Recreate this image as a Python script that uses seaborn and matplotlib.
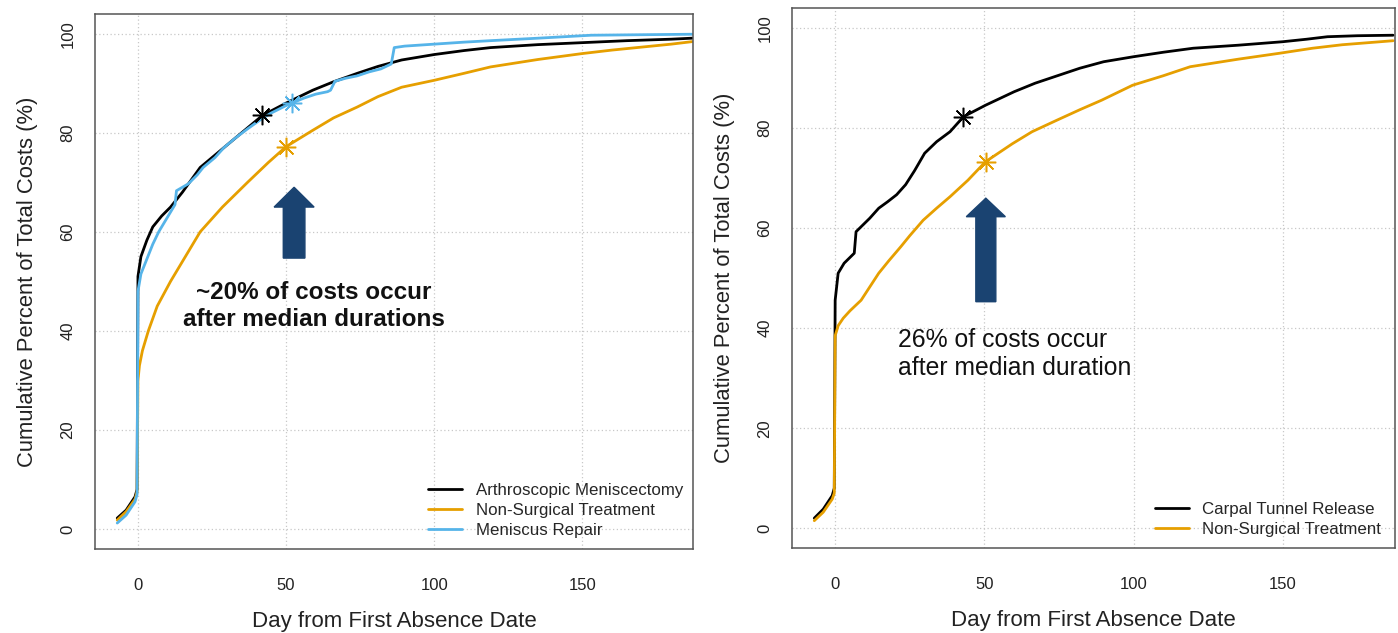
import numpy as np
import pandas as pd
import matplotlib
matplotlib.use("Agg")
import matplotlib.pyplot as plt
import seaborn as sns
from matplotlib.patches import FancyArrow

# --- left panel: knee (meniscus) ---
knee_labels = ["Arthroscopic Meniscectomy", "Non-Surgical Treatment", "Meniscus Repair"]
knee_black_x = [-7, -4, -1, -0.3, 0, 1, 3, 5, 8, 11, 15, 21, 26, 32, 37, 42, 50, 59, 66, 74, 81, 89, 100, 110, 119, 135, 150, 165, 180, 187]
knee_black_y = [2.2, 3.8, 6.5, 8, 51, 55, 58.3, 61, 63.2, 65, 68, 73, 75.5, 78.5, 81, 83.5, 86, 88.6, 90.3, 92, 93.4, 94.7, 95.8, 96.6, 97.2, 97.8, 98.2, 98.6, 98.9, 99.1]
knee_orange_x = [-7, -4, -1, -0.3, 0, 0.5, 1.5, 3.5, 6.5, 11, 16, 21, 28.5, 37, 44, 50, 59, 66, 74, 81, 89, 100, 110, 119, 135, 150, 160, 170, 180, 187]
knee_orange_y = [1.8, 3.5, 6, 7.5, 30, 33, 36, 40, 45, 50, 55, 60, 65, 70, 74, 77.2, 80.5, 83, 85.2, 87.3, 89.2, 90.6, 92, 93.3, 94.8, 96, 96.7, 97.3, 97.9, 98.4]
knee_blue_x = [-7, -4, -1, -0.3, 0, 1, 3, 5, 7, 9, 11, 12.5, 13, 17, 20, 22, 26, 29, 33, 37, 41, 45, 50, 52, 56, 60, 64, 65, 66.5, 70, 74, 78, 82, 85.5, 86.5, 90, 100, 110, 119, 135, 153, 170, 187]
knee_blue_y = [1.2, 2.8, 5.5, 7, 48, 51.5, 54.5, 57.5, 60, 62, 64, 65.5, 68.3, 69.7, 71.5, 73, 75, 77, 79, 80.8, 82.5, 84, 85.5, 86, 87, 87.8, 88.3, 88.6, 90.4, 91, 91.5, 92.3, 92.9, 93.9, 97.2, 97.5, 97.9, 98.3, 98.6, 99.1, 99.7, 99.8, 99.9]
knee_median_x = [42, 50, 52]
knee_median_y = [83.5, 77.2, 86]

# --- right panel: carpal tunnel ---
ct_labels = ["Carpal Tunnel Release", "Non-Surgical Treatment"]
ct_black_x = [-7, -4, -1, -0.3, 0, 1, 3, 6.4, 7, 11.6, 14.6, 17.6, 20.6, 23.6, 26.6, 30, 34, 38.5, 43, 50.4, 60, 67, 75, 82, 90, 100, 110, 120, 135, 150, 158, 165, 175, 187]
ct_black_y = [2, 3.8, 6.5, 8, 45.6, 51, 53, 55, 59.3, 62, 64, 65.3, 66.7, 68.7, 71.5, 75, 77.3, 79.3, 82.3, 84.6, 87.3, 89, 90.6, 92, 93.3, 94.3, 95.2, 96, 96.6, 97.3, 97.8, 98.3, 98.5, 98.6]
ct_orange_x = [-7, -4, -1, -0.3, 0, 1, 2.7, 5, 8.7, 14.6, 18, 22, 25, 29.5, 34, 38.5, 44.5, 50.4, 59.4, 66, 74.3, 82, 89.3, 99.7, 110, 119, 135, 149, 160, 170, 187]
ct_orange_y = [1.5, 3.2, 5.8, 7, 38.5, 40.5, 42, 43.5, 45.6, 51, 53.5, 56.3, 58.5, 61.6, 64, 66.3, 69.6, 73.3, 76.9, 79.3, 81.6, 83.7, 85.6, 88.6, 90.5, 92.3, 93.8, 95, 96, 96.7, 97.5]
ct_median_x = [43, 50.4]
ct_median_y = [82.3, 73.3]

x_ticks = [0, 50, 100, 150]
y_ticks = [0, 20, 40, 60, 80, 100]

BLACK, ORANGE, BLUE = "#000000", "#E69F00", "#56B4E9"
NAVY = "#1a4371"

sns.set_style("white")
plt.rcParams["font.family"] = ["Liberation Sans", "DejaVu Sans"]


def frame(xs, ys, labels):
    parts = [pd.DataFrame({"day": x, "pct": y, "group": lab}) for x, y, lab in zip(xs, ys, labels)]
    return pd.concat(parts, ignore_index=True)


def style_axes(ax):
    ax.set_xlim(-14.48, 187.48)
    ax.set_ylim(-4, 104)
    ax.set_xticks(x_ticks)
    ax.set_yticks(y_ticks)
    ax.grid(True, color="#c8c8c8", linestyle=(0, (1, 2)), linewidth=0.9)
    ax.set_axisbelow(True)
    for s in ax.spines.values():
        s.set_color("#555555")
        s.set_linewidth(1.1)
        s.set_visible(True)
    ax.tick_params(axis="both", direction="out", length=7, width=0.8, color="#666666",
                   labelsize=12, labelcolor="#222222")
    ax.tick_params(axis="x", pad=14)
    ax.tick_params(axis="y", pad=7)
    plt.setp(ax.get_yticklabels(), rotation=90, va="center")
    ax.set_xlabel("Day from First Absence Date", fontsize=16, color="#222222", labelpad=13)
    ax.set_ylabel("Cumulative Percent of Total Costs (%)", fontsize=15.8, color="#222222", labelpad=16)


fig = plt.figure(figsize=(13.98, 6.33), dpi=100)
ax1 = fig.add_axes([0.068, 0.133, 0.428, 0.845])
ax2 = fig.add_axes([0.5665, 0.134, 0.431, 0.853])

# left
df1 = frame([knee_black_x, knee_orange_x, knee_blue_x],
            [knee_black_y, knee_orange_y, knee_blue_y], knee_labels)
sns.lineplot(data=df1, x="day", y="pct", hue="group", hue_order=knee_labels,
             palette=[BLACK, ORANGE, BLUE], estimator=None, linewidth=2, ax=ax1)
for mx, my, c in zip(knee_median_x, knee_median_y, [BLACK, ORANGE, BLUE]):
    ax1.plot(mx, my, marker=(8, 2, 0), markersize=14, color=c, markeredgewidth=1.1, zorder=5)
ax1.add_patch(FancyArrow(52.7, 54.7, 0, 14.3, width=7.3, head_width=13.5, head_length=4,
                         length_includes_head=True, color=NAVY, zorder=6))
ax1.text(59.3, 45.0, "~20% of costs occur\nafter median durations", ha="center", va="center",
         fontsize=17.5, fontweight="bold", linespacing=1.2, color="#111111")
style_axes(ax1)
ax1.legend(loc="lower left", bbox_to_anchor=(0.557, 0.02), frameon=False, fontsize=12.2,
           handlelength=2.0, handletextpad=0.8, labelspacing=0.3, borderpad=0, borderaxespad=0)

# right
df2 = frame([ct_black_x, ct_orange_x], [ct_black_y, ct_orange_y], ct_labels)
sns.lineplot(data=df2, x="day", y="pct", hue="group", hue_order=ct_labels,
             palette=[BLACK, ORANGE], estimator=None, linewidth=2, ax=ax2)
for mx, my, c in zip(ct_median_x, ct_median_y, [BLACK, ORANGE]):
    ax2.plot(mx, my, marker=(8, 2, 0), markersize=14, color=c, markeredgewidth=1.1, zorder=5)
ax2.add_patch(FancyArrow(50.5, 45.3, 0, 20.7, width=6.7, head_width=13.1, head_length=3.7,
                         length_includes_head=True, color=NAVY, zorder=6))
ax2.text(21, 34.8, "26% of costs occur\nafter median duration", ha="left", va="center",
         fontsize=17.8, linespacing=1.2, color="#111111")
style_axes(ax2)
ax2.legend(loc="lower left", bbox_to_anchor=(0.602, 0.02), frameon=False, fontsize=12.2,
           handlelength=2.0, handletextpad=0.8, labelspacing=0.3, borderpad=0, borderaxespad=0)

fig.savefig("out.png", dpi=100)
